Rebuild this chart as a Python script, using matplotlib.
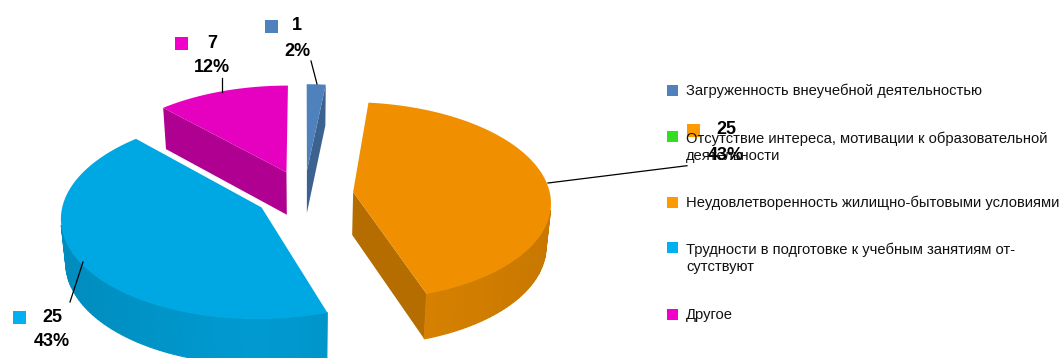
"""
Exploded 3D style pie chart with a hand placed legend.
"""

import numpy as np
import matplotlib
matplotlib.use("Agg")
import matplotlib.pyplot as plt
from matplotlib.patches import Polygon, Rectangle
from matplotlib.colors import to_rgb

categories = [
    "Загруженность внеучебной деятельностью",
    "Отсутствие интереса, мотивации к образовательной\nдеятельности",
    "Неудовлетворенность жилищно-бытовыми условиями",
    "Трудности в подготовке к учебным занятиям от-\nсутствуют",
    "Другое",
]
values = [1, 0, 25, 25, 7]
percents = ["2%", "0%", "43%", "43%", "12%"]
top_colors = ["#4F81BD", "#33DD22", "#F09000", "#00A8E3", "#E600BF"]
key_colors = ["#4F81BD", "#33DD22", "#FF9900", "#00B0F0", "#F000C8"]

# pie geometry in pixels
CX, CY = 304.3, 194.6
RX, RY = 197, 98.6
PERSP = 0.093
EXPLODE = 0.25
DEPTH = 43
FONT = ["Liberation Sans"]


def project(x, y, bottom=False):
    s = 1 / (1 + PERSP * y)
    sx = CX + RX * x * s
    sy = CY - RY * y * s
    if bottom:
        sx = CX + (sx - CX) * 0.98
        sy = sy + DEPTH * (1 + (s - 1) * 0.5)
    return np.array([sx, sy])


def darker(color, factor):
    return tuple(c * factor for c in to_rgb(color))


def signed_area(pts):
    pts = np.array(pts)
    x, y = pts[:, 0], pts[:, 1]
    return 0.5 * np.sum(x * np.roll(y, -1) - np.roll(x, -1) * y)


def draw_wedge(ax, start, end, color):
    mid = (start + end) / 2
    ox, oy = EXPLODE * np.sin(mid), EXPLODE * np.cos(mid)
    thetas = np.linspace(start, end, max(int((end - start) * 40), 4))
    rim_x = ox + np.sin(thetas)
    rim_y = oy + np.cos(thetas)

    top = [project(ox, oy)] + [project(a, b) for a, b in zip(rim_x, rim_y)]
    low = [project(ox, oy, True)] + [project(a, b, True) for a, b in zip(rim_x, rim_y)]

    # flat cut faces, only the ones turned to the viewer
    for i, j in [(0, 1), (len(top) - 1, 0)]:
        quad = [top[i], top[j], low[j], low[i]]
        if signed_area(quad) < -100:  # skips slivers seen almost edge on
            ax.add_patch(Polygon(quad, facecolor=darker(color, 0.76), edgecolor="none", zorder=2))

    # outer rim in small strips so the shade can change along it
    for i in range(1, len(top) - 1):
        quad = [top[i], top[i + 1], low[i + 1], low[i]]
        if signed_area(quad) < 0:
            shade = 0.92 - 0.09 * abs(np.sin(thetas[i - 1]))
            c = darker(color, shade)
            ax.add_patch(Polygon(quad, facecolor=c, edgecolor=c, linewidth=0.8, zorder=3))

    ax.add_patch(Polygon(top, facecolor=color, edgecolor="none", zorder=4))


fig = plt.figure(figsize=(10.64, 3.58), dpi=100)
ax = fig.add_axes([0, 0, 1, 1])
ax.set_xlim(0, 1064)
ax.set_ylim(358, 0)
ax.axis("off")

edges = np.concatenate([[0], np.cumsum(values)]) / sum(values) * 2 * np.pi
for k in range(len(values)):
    if values[k] > 0:
        draw_wedge(ax, edges[k], edges[k + 1], top_colors[k])

# data labels: key square, count, percent, leader line
label_boxes = {
    0: (271.5, 297, 26, 51, [(311, 61), (317, 84)]),
    2: (693.5, 726, 130, 156, [(548, 183), (687, 165.7)]),
    3: (19.5, 52, 317, 341, [(83, 262), (70, 302)]),
    4: (181, 212, 43, 68, [(222, 78), (222, 92)]),
}
for k, (kx, tx, y1, y2, line) in label_boxes.items():
    ax.add_patch(Rectangle((kx - 6.5, y1 - 6.5), 13, 13, facecolor=key_colors[k], edgecolor="none", zorder=6))
    ax.text(tx, y1, str(values[k]), family=FONT, fontsize=13, fontweight="bold", ha="center", va="center", zorder=7)
    ax.text(tx, y2, percents[k], family=FONT, fontsize=13, fontweight="bold", ha="center", va="center", zorder=7)
    ax.plot([line[0][0], line[1][0]], [line[0][1], line[1][1]], color="black", linewidth=0.9, zorder=5)

# legend
legend_y = [90, 136, 202, 247, 314]
legend_text_y = [91, 147.5, 203, 258, 315]
for k, name in enumerate(categories):
    ax.add_patch(Rectangle((667, legend_y[k] - 5.5), 11, 11, facecolor=key_colors[k], edgecolor="none"))
    ax.text(686, legend_text_y[k], name, family=FONT, fontsize=10.6, va="center", ha="left",
            linespacing=1.25, color="#111111", zorder=8)

fig.savefig("out.png", dpi=100)
